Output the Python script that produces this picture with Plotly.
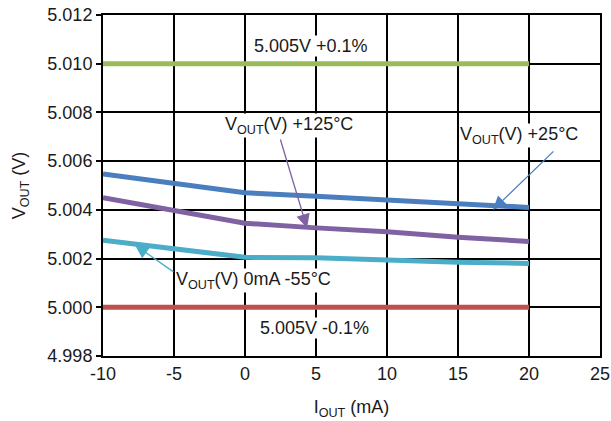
import plotly.graph_objects as go

iout_ma = [-10, -5, 0, 5, 10, 15, 20]
v_upper = [5.010, 5.010, 5.010, 5.010, 5.010, 5.010, 5.010]
v_lower = [5.000, 5.000, 5.000, 5.000, 5.000, 5.000, 5.000]
v_25c = [5.00547, 5.00508, 5.00470, 5.00456, 5.00440, 5.00427, 5.00410]
v_125c = [5.00450, 5.00400, 5.00345, 5.00326, 5.00310, 5.00288, 5.00270]
v_m55c = [5.00275, 5.00240, 5.00205, 5.00203, 5.00192, 5.00185, 5.00180]

x_ticks = [-10, -5, 0, 5, 10, 15, 20, 25]
y_ticks = [4.998, 5.000, 5.002, 5.004, 5.006, 5.008, 5.010, 5.012]

FONT = "Liberation Sans, Arial, sans-serif"
TXT = "#1a1a1a"
FS = 18

fig = go.Figure()
series = [
    (v_upper, "#9BBB59"),
    (v_lower, "#C0504D"),
    (v_25c, "#4A7EBF"),
    (v_125c, "#7F62A2"),
    (v_m55c, "#4BADC8"),
]
for vals, col in series:
    fig.add_trace(go.Scatter(x=iout_ma, y=vals, mode="lines",
                             line=dict(color=col, width=5), showlegend=False,
                             hoverinfo="skip"))

ann_font = dict(family=FONT, size=FS, color=TXT)
annotations = []
arrows = [
    (2.46, 5.00695, 4.37, 5.00326, "#7F62A2"),
    (21.83, 5.00646, 17.46, 5.00400, "#4A7EBF"),
    (-4.93, 5.00141, -7.75, 5.00256, "#4BADC8"),
]
for ax_, ay_, x_, y_, col in arrows:
    annotations.append(dict(x=x_, y=y_, ax=ax_, ay=ay_, xref="x", yref="y",
                            axref="x", ayref="y", text="", showarrow=True,
                            arrowhead=2, arrowsize=2.1, arrowwidth=1.3,
                            arrowcolor=col, standoff=0, startstandoff=0))
texts = [
    (3.13, 5.00748, "V<sub>OUT</sub>(V) +125°C"),
    (19.33, 5.00707, "V<sub>OUT</sub>(V) +25°C"),
    (0.63, 5.00112, "V<sub>OUT</sub>(V) 0mA -55°C"),
    (4.68, 5.01073, "5.005V +0.1%"),
    (4.86, 4.99915, "5.005V -0.1%"),
]
for x_, y_, t in texts:
    annotations.append(dict(x=x_, y=y_, xref="x", yref="y", text=t,
                            showarrow=False, font=ann_font, bgcolor="white",
                            borderpad=0))

fig.update_layout(
    width=611, height=421,
    margin=dict(l=103, r=11, t=15, b=65),
    paper_bgcolor="white", plot_bgcolor="white",
    font=dict(family=FONT, size=FS, color=TXT),
    annotations=annotations,
    xaxis=dict(range=[-10, 25], tickvals=x_ticks, ticktext=[str(v) for v in x_ticks],
               showgrid=True, gridcolor="black", gridwidth=2,
               showline=True, linecolor="black", linewidth=2, mirror=True,
               ticks="", zeroline=False, tickfont=dict(size=FS), automargin=False,
               title=dict(text="I<sub>OUT</sub> (mA)", font=dict(size=FS), standoff=18)),
    yaxis=dict(range=[4.998, 5.012], tickvals=y_ticks, ticktext=[f"{v:.3f}" for v in y_ticks],
               showgrid=True, gridcolor="black", gridwidth=2,
               showline=True, linecolor="black", linewidth=2, mirror=True,
               ticks="outside", ticklen=5, tickwidth=2, tickcolor="black",
               zeroline=False, tickfont=dict(size=FS), automargin=False,
               title=dict(text="V<sub>OUT</sub> (V)", font=dict(size=FS), standoff=17)),
)

fig.write_html("out.html", config={"displayModeBar": False},
               post_script="document.body.style.margin='0';")
